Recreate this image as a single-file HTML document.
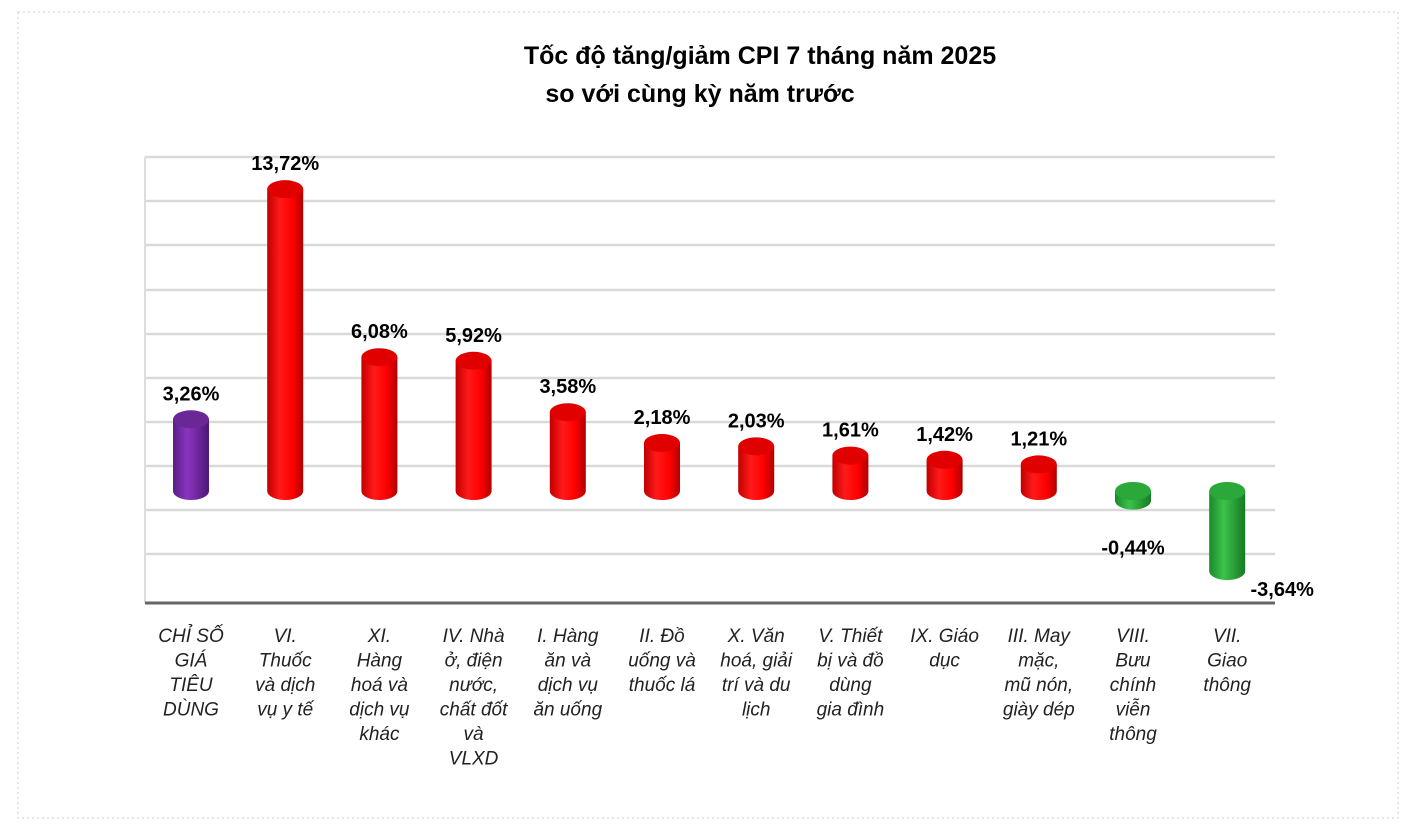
<!DOCTYPE html>
<html><head><meta charset="utf-8"><style>
body{margin:0;background:#fff;width:1416px;height:834px;overflow:hidden;font-family:"Liberation Sans",sans-serif}
</style></head><body>
<svg width="1416" height="834" xmlns="http://www.w3.org/2000/svg">
<defs>
<linearGradient id="gr" x1="0" x2="1"><stop offset="0" stop-color="#c00000"/><stop offset="0.35" stop-color="#ff1a1a"/><stop offset="0.7" stop-color="#ff0000"/><stop offset="1" stop-color="#b00000"/></linearGradient>
<linearGradient id="gp" x1="0" x2="1"><stop offset="0" stop-color="#5a1d86"/><stop offset="0.4" stop-color="#8a35c0"/><stop offset="1" stop-color="#4e1775"/></linearGradient>
<linearGradient id="gg" x1="0" x2="1"><stop offset="0" stop-color="#1a8a2a"/><stop offset="0.4" stop-color="#3cc24a"/><stop offset="1" stop-color="#167a24"/></linearGradient>
</defs>
<rect x="18" y="12" width="1380" height="806" fill="none" stroke="#ccc" stroke-dasharray="2,3"/>
<text x="760" y="64" text-anchor="middle" font-size="25" font-weight="bold">Tốc độ tăng/giảm CPI 7 tháng năm 2025</text>
<text x="700" y="102" text-anchor="middle" font-size="25" font-weight="bold">so với cùng kỳ năm trước</text>
<g id="grid"></g>
<line x1="145" y1="157" x2="145" y2="603" stroke="#ddd" stroke-width="2"/>
<line x1="145" y1="603" x2="1275" y2="603" stroke="#666" stroke-width="3"/>
<g id="bars"></g>
<g id="labels"></g>
</svg>
<script>
const categories=[["CHỈ SỐ","GIÁ","TIÊU","DÙNG"],["VI.","Thuốc","và dịch","vụ y tế"],["XI.","Hàng","hoá và","dịch vụ","khác"],["IV. Nhà","ở, điện","nước,","chất đốt","và","VLXD"],["I. Hàng","ăn và","dịch vụ","ăn uống"],["II. Đồ","uống  và","thuốc lá"],["X. Văn","hoá, giải","trí và du","lịch"],["V. Thiết","bị và đồ","dùng","gia đình"],["IX. Giáo","dục"],["III. May","mặc,","mũ nón,","giày dép"],["VIII.","Bưu","chính","viễn","thông"],["VII.","Giao","thông"]];
const values=[3.26,13.72,6.08,5.92,3.58,2.18,2.03,1.61,1.42,1.21,-0.44,-3.64];
const valueLabels=["3,26%","13,72%","6,08%","5,92%","3,58%","2,18%","2,03%","1,61%","1,42%","1,21%","-0,44%","-3,64%"];
const gridYs=[157,201,245,290,334,378,422,466,510,554];
const NS="http://www.w3.org/2000/svg";
function mk(t,a,p){const e=document.createElementNS(NS,t);for(const k in a)e.setAttribute(k,a[k]);p.appendChild(e);return e;}
const x=i=>191+i*94.2;
const y=v=>491-v*22;
const grid=document.getElementById('grid');
gridYs.forEach(g=>{const l=mk('line',{x1:145,x2:1275,y1:g,y2:g,stroke:'#d9d9d9','stroke-width':2.5},grid);

});
const bars=document.getElementById('bars'),labels=document.getElementById('labels');
const w=18,ry=9;
values.forEach((v,i)=>{
 const cx=x(i),y0=y(0),y1=y(v);
 const fill=i===0?'url(#gp)':(v<0?'url(#gg)':'url(#gr)');
 const top=i===0?'#6a2896':(v<0?'#2aa83a':'#e00000');
 const g=mk('g',{},bars);
 
 
 const a=Math.min(y0,y1),b=Math.max(y0,y1);
 mk('path',{d:`M${cx-w},${a} L${cx-w},${b} A${w},${ry} 0 0 0 ${cx+w},${b} L${cx+w},${a} Z`,fill:fill},g);
 mk('ellipse',{cx:cx,cy:a,rx:w,ry:ry,fill:top},g);
 let lx=cx,ly=y1-ry-10;
 if(v<0){ly=y1+ry+(v<-2?16:45);lx=cx+(v<-2?55:0);}
 const t=mk('text',{x:lx,y:ly,'text-anchor':'middle','font-size':20,'font-weight':'bold'},labels);
 t.textContent=valueLabels[i];
 
 
 const c=mk('text',{x:cx,'text-anchor':'middle','font-size':19,'font-style':'italic',fill:'#222'},labels);
 
 
 categories[i].forEach((ln,k)=>{const s=mk('tspan',{x:cx,y:642+k*24.5},c);s.textContent=ln;});
});
</script>
</body></html>
